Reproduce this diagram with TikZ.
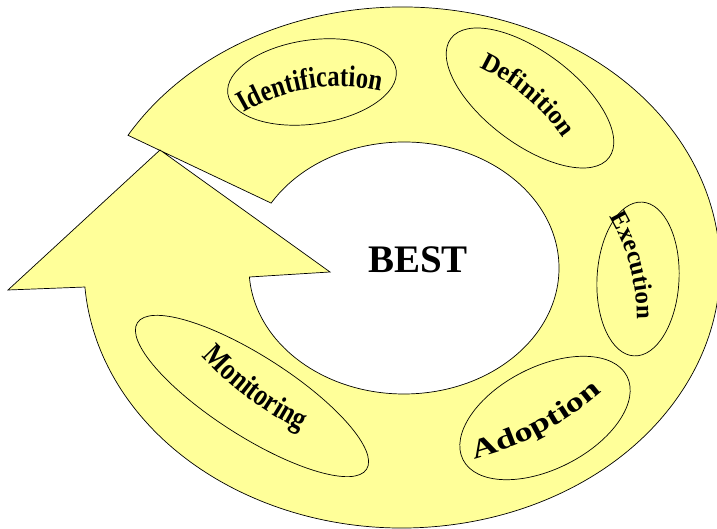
\documentclass[tikz,border=0pt]{standalone}
\usepackage{fontspec}
\setmainfont{Liberation Serif}
\newfontfamily\condf[FakeStretch=0.82]{Liberation Serif}
\newfontfamily\widef[FakeStretch=1.35]{Liberation Serif}
\usetikzlibrary{shapes.geometric,decorations.text,calc}
\definecolor{ringyellow}{HTML}{FFFF99}
\tikzset{
  ring/.style={fill=ringyellow, draw=black, line width=0.7pt, line join=miter},
  oval/.style={ellipse, draw=black, line width=0.7pt, inner sep=0pt},
  bigword/.style={font=\bfseries\fontsize{39}{39}\selectfont}
}
% text arched outward (convex side up)
\newcommand{\archup}[7]{%
  \path[decorate,decoration={text along path,text align=center,text={|#6|#7}}]
   ($(#1,#2)+({#3-90}:#4)+({#3+90+#5}:#4)$) arc[start angle={#3+90+#5}, end angle={#3+90-#5}, radius=#4];}
% text arched inward (concave side up)
\newcommand{\archdown}[7]{%
  \path[decorate,decoration={text along path,text align=center,text={|#6|#7}}]
   ($(#1,#2)+({#3+90}:#4)+({#3-90-#5}:#4)$) arc[start angle={#3-90-#5}, end angle={#3-90+#5}, radius=#4];}
\begin{document}
\begin{tikzpicture}[x=1pt,y=1pt]
\useasboundingbox (0,0) rectangle (717,529);
% circular arrow
\path[ring] ([shift={(149.5:318 and 260.5)}]402,261.5) coordinate (tailout)
  arc[start angle=149.5, end angle=-175.7, x radius=318, y radius=260.5] coordinate (shaftout)
  -- (8,239) coordinate (headleft)
  -- (160,379) coordinate (headtip)
  -- (330,257) coordinate (headright)
  -- ([shift={(184.1:155 and 126)}]404,261) coordinate (shaftin)
  arc[start angle=184.1, end angle=509, x radius=155, y radius=126] coordinate (tailin)
  -- cycle;
% ovals
\node[oval, minimum width=170, minimum height=84, rotate=8] (ident) at (312,447) {};
\node[oval, minimum width=198, minimum height=92, rotate=-37] (defin) at (530,431) {};
\node[oval, minimum width=82, minimum height=154, rotate=-3] (exec) at (638,250) {};
\node[oval, minimum width=184, minimum height=102, rotate=27] (adopt) at (545,111) {};
\node[oval, minimum width=272, minimum height=80, rotate=-32.6] (monit) at (252,133) {};
% labels
\node[bigword] (best) at (418,269) {BEST};
\archup{310}{440}{9}{190}{40}{\condf\fontsize{30}{30}\selectfont\bfseries}{Identification}
\archup{526}{432}{-40}{210}{34}{\fontsize{26}{26}\selectfont\bfseries}{Definition}
\archup{630}{263}{-75}{200}{35}{\fontsize{25}{25}\selectfont\bfseries}{Execution}
\archdown{542}{96}{28}{320}{24}{\widef\fontsize{27}{27}\selectfont\bfseries}{Adoption}
\archdown{248}{131}{-37}{340}{22}{\condf\fontsize{31}{31}\selectfont\bfseries}{Monitoring}
\end{tikzpicture}
\end{document}
